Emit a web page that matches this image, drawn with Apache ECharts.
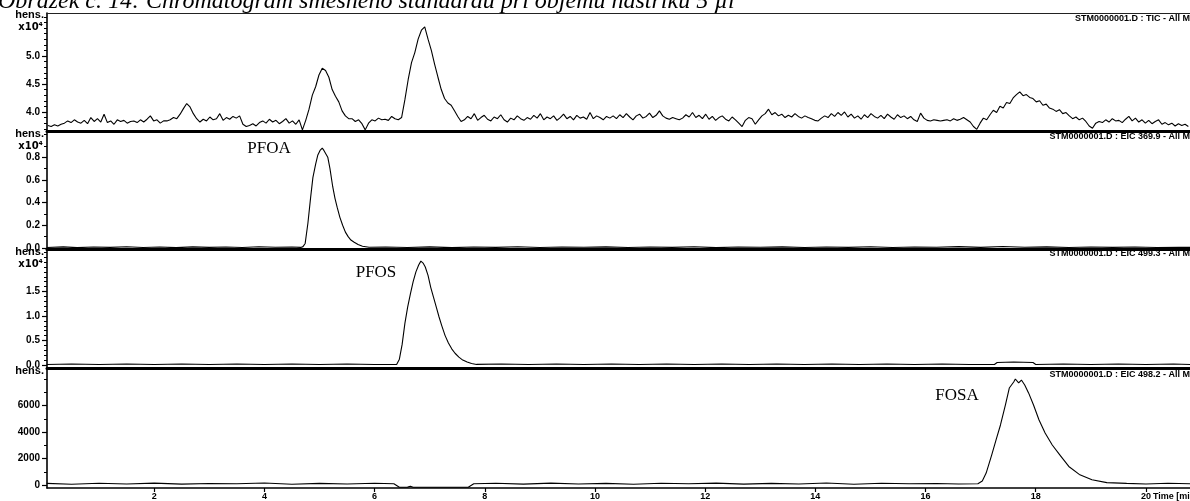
<!DOCTYPE html>
<html>
<head>
<meta charset="utf-8">
<script src="https://cdn.jsdelivr.net/npm/echarts@6/dist/echarts.min.js"></script>
<style>
html,body{margin:0;padding:0;background:#fff;overflow:hidden;}
#chart{width:1190px;height:501px;}
</style>
</head>
<body>
<div id="chart"></div>
<script>
// ---- Total ion chromatogram, sampled every 0.06 min from 0.07 min (x10^4) ----
const TIC_START = 0.07;
const TIC_STEP = 0.06;
const ticSignal = [
  3.76, 3.74, 3.77, 3.75, 3.78,
  3.80, 3.84, 3.81, 3.86, 3.82, 3.80, 3.85, 3.79, 3.90, 3.83,
  3.88, 3.82, 3.96, 3.81, 3.84, 3.78, 3.86, 3.83, 3.85, 3.80,
  3.83, 3.84, 3.81, 3.86, 3.82, 3.87, 3.93, 3.84, 3.86, 3.80, 3.84,
  3.84, 3.86, 3.90, 3.88, 3.96, 4.06, 4.15, 4.09, 3.97, 3.88,
  3.82, 3.87, 3.84, 3.91, 3.86, 3.88, 3.97, 3.85, 3.90, 3.87, 3.92, 3.89,
  3.93, 3.78, 3.74,
  3.76, 3.79, 3.75, 3.81, 3.84, 3.80, 3.87, 3.82, 3.85, 3.79, 3.83, 3.88, 3.80, 3.84, 3.78, 3.86,
  3.68,
  3.85, 4.05, 4.30, 4.45, 4.66, 4.78, 4.74, 4.62, 4.40, 4.28, 4.18, 4.02, 3.93, 3.88,
  3.88, 3.83, 3.86, 3.79, 3.68, 3.80, 3.86, 3.84, 3.89,
  3.86, 3.87, 3.85, 3.92, 3.88, 3.86,
  3.90, 4.22, 4.58, 4.88, 5.06, 5.30, 5.46, 5.52, 5.30, 5.10,
  4.85, 4.62, 4.40, 4.24, 4.16, 4.12, 4.02, 3.92, 3.83,
  3.86, 3.92, 3.88, 3.97, 3.85, 3.90, 3.94, 3.87, 3.84, 3.91,
  3.88, 3.95, 3.86, 3.82, 3.89, 3.86, 3.93, 3.88, 3.85, 3.90,
  3.87, 3.94, 3.89, 3.97, 3.86, 3.91, 3.88, 3.93, 3.85, 3.90,
  3.96, 3.88, 3.92, 3.86, 3.94, 3.89, 3.91, 3.87, 3.99, 3.88,
  3.93, 3.90, 3.86, 3.92, 3.89,
  3.93, 3.88, 3.95, 3.90, 3.97, 3.91, 3.86, 3.93, 3.96, 3.89,
  3.92, 3.98, 3.90, 3.94, 4.02, 3.93, 3.89, 3.87, 3.90, 3.88,
  3.86, 3.89, 3.95, 3.91, 3.99, 3.90, 3.94, 3.88, 3.96, 3.87,
  3.92, 3.85, 3.90, 3.93, 3.87, 3.84, 3.91, 3.86, 3.80, 3.74,
  3.85, 3.90, 3.88, 3.78, 3.86, 3.93, 3.97, 4.05, 3.95, 3.99,
  3.93, 3.96, 3.90, 3.94, 3.91, 3.97, 3.92, 3.89, 3.93, 3.90,
  3.88, 3.85, 3.84, 3.89, 3.93, 3.90, 3.97, 3.92, 3.99, 3.94,
  4.00, 3.91, 3.96, 3.89, 3.93, 3.87, 3.95, 3.90, 3.97, 3.92,
  3.89, 3.94, 3.88, 3.96, 3.91, 3.87, 3.95, 3.90, 3.93, 3.88,
  3.92, 3.86, 3.83, 3.98, 3.89, 3.85, 3.84, 3.86, 3.85, 3.84,
  3.85, 3.86, 3.84, 3.88, 3.85, 3.87, 3.90, 3.86, 3.82, 3.74,
  3.69, 3.80, 3.89, 3.86, 3.95, 4.03, 3.99, 4.10, 4.07, 4.17,
  4.15, 4.25, 4.31, 4.36, 4.29, 4.31, 4.26, 4.24, 4.18, 4.20,
  4.12, 4.14, 4.07, 4.05, 4.01, 4.04, 3.97, 3.99, 3.93, 3.88,
  3.91, 3.86, 3.89, 3.83, 3.75, 3.71, 3.80, 3.83, 3.81,
  3.86, 3.82, 3.88, 3.84, 3.85, 3.81, 3.87, 3.92, 3.84, 3.89,
  3.82, 3.86, 3.80, 3.85, 3.79, 3.83, 3.86, 3.78, 3.81, 3.77,
  3.80, 3.75, 3.79, 3.76, 3.78, 3.74
];

// ---- PFOA extracted ion trace (x10^4) ----
const pfoaTime = [
  0.05, 0.35, 0.6, 0.9, 1.2, 1.5, 1.8, 2.1, 2.4, 2.7, 3.0, 3.3, 3.6, 3.9, 4.2, 4.5, 4.66,
  4.70, 4.74, 4.79, 4.84, 4.88, 4.93, 4.97, 5.01, 5.05, 5.08,
  5.11, 5.15, 5.19, 5.24, 5.28, 5.32, 5.37, 5.42, 5.47, 5.52,
  5.57, 5.63, 5.70, 5.78, 5.90,
  6.2, 6.6, 7.0, 7.4, 7.8, 8.2, 8.6, 9.0, 9.4, 9.8,
  10.2, 10.6, 11.0, 11.4, 11.8, 12.2, 12.6, 13.0, 13.4, 13.8,
  14.2, 14.6, 15.0, 15.4, 15.8, 16.2, 16.6, 17.0, 17.4, 17.8,
  18.2, 18.6, 19.0, 19.4, 19.8, 20.2, 20.6, 20.85
];
const pfoaSignal = [
  0.004, 0.010, 0.003, 0.009, 0.005, 0.011, 0.004, 0.008, 0.003, 0.010, 0.005, 0.009, 0.004, 0.011, 0.006, 0.008, 0.005,
  0.012, 0.04, 0.22, 0.45, 0.62, 0.74, 0.82, 0.86, 0.88, 0.86,
  0.87, 0.80, 0.70, 0.54, 0.44, 0.36, 0.27, 0.20, 0.14, 0.10,
  0.07, 0.05, 0.03, 0.015, 0.006,
  0.008, 0.004, 0.010, 0.003, 0.009, 0.005, 0.011, 0.004, 0.008, 0.006,
  0.010, 0.004, 0.009, 0.005, 0.011, 0.003, 0.008, 0.006, 0.010, 0.004,
  0.009, 0.005, 0.011, 0.004, 0.008, 0.006, 0.012, 0.005, 0.013, 0.006,
  0.010, 0.004, 0.009, 0.005, 0.008, 0.004, 0.007, 0.005
];

// ---- PFOS extracted ion trace (x10^4) ----
const pfosTime = [
  0.05, 0.5, 1.0, 1.5, 2.0, 2.5, 3.0, 3.5, 4.0, 4.5, 5.0, 5.5, 6.0, 6.40,
  6.45, 6.50, 6.55, 6.60, 6.65, 6.70, 6.75, 6.80, 6.84, 6.88,
  6.92, 6.97, 7.02, 7.07, 7.12, 7.17, 7.22, 7.28, 7.34, 7.40,
  7.46, 7.53, 7.60, 7.68, 7.76, 7.85,
  8.3, 8.8, 9.3, 9.8, 10.3, 10.8, 11.3, 11.8, 12.3, 12.8,
  13.3, 13.8, 14.3, 14.8, 15.3, 15.8, 16.3, 16.8, 17.25, 17.3,
  17.6, 17.95, 18.0, 18.5, 19.0, 19.5, 20.0, 20.5, 20.85
];
const pfosSignal = [
  0.01, 0.02, 0.01, 0.02, 0.01, 0.02, 0.01, 0.02, 0.01, 0.02, 0.01, 0.02, 0.01, 0.01,
  0.12, 0.42, 0.85, 1.18, 1.45, 1.70, 1.90, 2.04, 2.12, 2.08,
  2.00, 1.83, 1.58, 1.38, 1.18, 0.98, 0.80, 0.60, 0.45, 0.33,
  0.24, 0.16, 0.10, 0.06, 0.03, 0.012,
  0.02, 0.01, 0.02, 0.01, 0.02, 0.01, 0.02, 0.01, 0.02, 0.01,
  0.02, 0.01, 0.02, 0.01, 0.02, 0.01, 0.02, 0.01, 0.01, 0.05,
  0.06, 0.05, 0.01, 0.02, 0.01, 0.02, 0.01, 0.02, 0.01
];

// ---- FOSA extracted ion trace (counts) ----
const fosaTime = [
  0.05, 0.5, 1.0, 1.5, 2.0, 2.5, 3.0, 3.5, 4.0, 4.5,
  5.0, 5.5, 6.0, 6.35, 6.45, 6.6, 6.65, 6.7, 6.9, 7.3,
  7.7, 7.8, 8.2, 8.7, 9.2, 9.7, 10.2, 10.7, 11.2, 11.7,
  12.2, 12.7, 13.2, 13.7, 14.2, 14.7, 15.2, 15.7, 16.2, 16.6,
  16.95, 17.03, 17.10, 17.20, 17.28, 17.36, 17.45, 17.52, 17.60, 17.63,
  17.69, 17.74, 17.80, 17.87, 17.96, 18.06, 18.17, 18.30, 18.44, 18.60,
  18.79, 19.02, 19.29, 19.65, 20.0, 20.4, 20.85
];
const fosaSignal = [
  120, 60, 130, 80, 140, 70, 110, 90, 150, 60,
  120, 80, 130, 90, -170, -160, -90, -170, -175, -170,
  -165, 90, 130, 70, 140, 80, 120, 60, 130, 90,
  140, 70, 120, 80, 150, 60, 130, 90, 110, 80,
  100, 300, 900, 2260, 3400, 4530, 6040, 7320, 7770, 8000,
  7700, 7920, 7550, 6950, 6040, 4910, 3930, 3020, 2260, 1400,
  800, 400, 180, 120, 80, 130, 90
];

// ---- axis ticks and labels ----
const timeTicks = [2, 4, 6, 8, 10, 12, 14, 16, 18, 20];
const ticMajor = [4.0, 4.5, 5.0];
const ticMinor = [3.7, 3.8, 3.9, 4.0, 4.1, 4.2, 4.3, 4.4, 4.5, 4.6, 4.7, 4.8, 4.9, 5.0, 5.1, 5.2, 5.3, 5.4, 5.5, 5.6, 5.7];
const pfoaMajor = [0.0, 0.2, 0.4, 0.6, 0.8];
const pfoaMinor = [0.0, 0.1, 0.2, 0.3, 0.4, 0.5, 0.6, 0.7, 0.8, 0.9, 1.0];
const pfosMajor = [0.0, 0.5, 1.0, 1.5];
const pfosMinor = [0.0, 0.1, 0.2, 0.3, 0.4, 0.5, 0.6, 0.7, 0.8, 0.9, 1.0, 1.1, 1.2, 1.3, 1.4, 1.5, 1.6, 1.7, 1.8, 1.9, 2.0, 2.1, 2.2, 2.3];
const fosaMajor = [0, 2000, 4000, 6000];
const fosaMinor = [0, 1000, 2000, 3000, 4000, 5000, 6000, 7000, 8000];

const traceNames = [
  'STM0000001.D : TIC - All MS',
  'STM0000001.D : EIC 369.9 - All MS',
  'STM0000001.D : EIC 499.3 - All MS',
  'STM0000001.D : EIC 498.2 - All MS'
];
const peakNames = ['PFOA', 'PFOS', 'FOSA'];
const axisUnitLabel = 'hens.';
const scaleLabel = 'x10\u2074';
const timeAxisName = 'Time [min]';
const titleText = 'Obrázek č. 14: Chromatogram směsného standardu při objemu nástřiku 5 µl';

// ---- build series data ----
const ticData = ticSignal.map((v, i) => [TIC_START + i * TIC_STEP, v]);
const zip = (ts, vs) => ts.map((t, i) => [t, vs[i]]);
const pfoaData = zip(pfoaTime, pfoaSignal);
const pfosData = zip(pfosTime, pfosSignal);
const fosaData = zip(fosaTime, fosaSignal);

// ---- layout ----
const X_MIN = 0.054, X_MAX = 20.80;
const LEFT = 47;
const panels = [
  { top: 13,  height: 118, min: 3.66,   max: 5.767, major: ticMajor,  minor: ticMinor,  fmt: v => v.toFixed(1), data: ticData },
  { top: 131, height: 118, min: -0.009, max: 1.031, major: pfoaMajor, minor: pfoaMinor, fmt: v => v.toFixed(1), data: pfoaData },
  { top: 249, height: 119, min: -0.061, max: 2.367, major: pfosMajor, minor: pfosMinor, fmt: v => v.toFixed(1), data: pfosData },
  { top: 368, height: 120, min: -226,   max: 8830,  major: fosaMajor, minor: fosaMinor, fmt: v => String(Math.round(v)), data: fosaData }
];

const FONT_AX = '"Liberation Sans", Arial, sans-serif';
const grid = [], xAxis = [], yAxis = [], series = [];

panels.forEach((p, i) => {
  const last = i === panels.length - 1;
  grid.push({ left: LEFT, right: -2, top: p.top, height: p.height, containLabel: false });
  xAxis.push({
    type: 'value', gridIndex: i, min: X_MIN, max: X_MAX,
    axisLine: { show: true, onZero: false, lineStyle: { color: '#000', width: last ? 1.5 : 3 } },
    axisTick: { show: last, customValues: timeTicks, length: 4, lineStyle: { color: '#000', width: 1.2 } },
    axisLabel: {
      show: last, customValues: timeTicks, margin: 4,
      color: '#000', fontFamily: FONT_AX, fontWeight: 'bold', fontSize: 9
    },
    splitLine: { show: false }
  });
  // main axis: line, long ticks and labels
  yAxis.push({
    type: 'value', gridIndex: i, position: 'left', min: p.min, max: p.max,
    axisLine: { show: true, onZero: false, lineStyle: { color: '#000', width: 1.6 } },
    axisTick: { show: true, customValues: p.major, length: 5, lineStyle: { color: '#000', width: 1.2 } },
    axisLabel: {
      show: true, customValues: p.major, margin: 7, formatter: p.fmt,
      color: '#000', fontFamily: FONT_AX, fontWeight: 'bold', fontSize: 10
    },
    splitLine: { show: false }
  });
  // companion axis: short minor ticks only
  yAxis.push({
    type: 'value', gridIndex: i, position: 'left', min: p.min, max: p.max,
    axisLine: { show: false },
    axisTick: { show: true, customValues: p.minor, length: 3, lineStyle: { color: '#000', width: 1 } },
    axisLabel: { show: false },
    splitLine: { show: false }
  });
  series.push({
    type: 'line', xAxisIndex: i, yAxisIndex: i * 2, data: p.data,
    showSymbol: false, symbol: 'none', clip: true,
    lineStyle: { color: '#000', width: 1.1 },
    animation: false, silent: true
  });
});

// frame line along the top of the first panel
xAxis.push({
  type: 'value', gridIndex: 0, position: 'top', min: X_MIN, max: X_MAX,
  axisLine: { show: true, onZero: false, lineStyle: { color: '#222', width: 1.2 } },
  axisTick: { show: false }, axisLabel: { show: false }, splitLine: { show: false }
});

// ---- text overlays ----
const txt = (x, y, text, font, align, extra) => Object.assign({
  type: 'text', x: x, y: y, silent: true,
  style: { text: text, font: font, fill: '#000', textAlign: align, textVerticalAlign: 'middle', align: align, verticalAlign: 'middle' }
}, extra || {});

const graphic = [];
graphic.push(txt(-2, 2, titleText, 'italic 24px "Liberation Serif", "Times New Roman", serif', 'left'));

const unitY = [15, 134, 252, 371];
unitY.forEach(y => graphic.push(txt(44, y, axisUnitLabel, 'bold 11px ' + FONT_AX, 'right')));
const scaleY = [27.5, 146.5, 264.5];
scaleY.forEach(y => graphic.push(txt(43, y, scaleLabel, 'bold 10px "DejaVu Sans", ' + FONT_AX, 'right')));

const nameY = [19, 136.5, 254, 374.5];
traceNames.forEach((n, i) => graphic.push(txt(1196, nameY[i], n, 'bold 9px ' + FONT_AX, 'right')));

const peakPos = [[269, 149], [376, 273], [957, 396]];
peakNames.forEach((n, i) => graphic.push(txt(peakPos[i][0], peakPos[i][1], n, '17px "Liberation Serif", "Times New Roman", serif', 'center')));

graphic.push(txt(1153, 497, timeAxisName, 'bold 9px ' + FONT_AX, 'left'));

const chart = echarts.init(document.getElementById('chart'), null, { renderer: 'canvas' });
chart.setOption({
  animation: false,
  backgroundColor: '#fff',
  grid: grid,
  xAxis: xAxis,
  yAxis: yAxis,
  series: series,
  graphic: graphic
});
</script>
</body>
</html>
